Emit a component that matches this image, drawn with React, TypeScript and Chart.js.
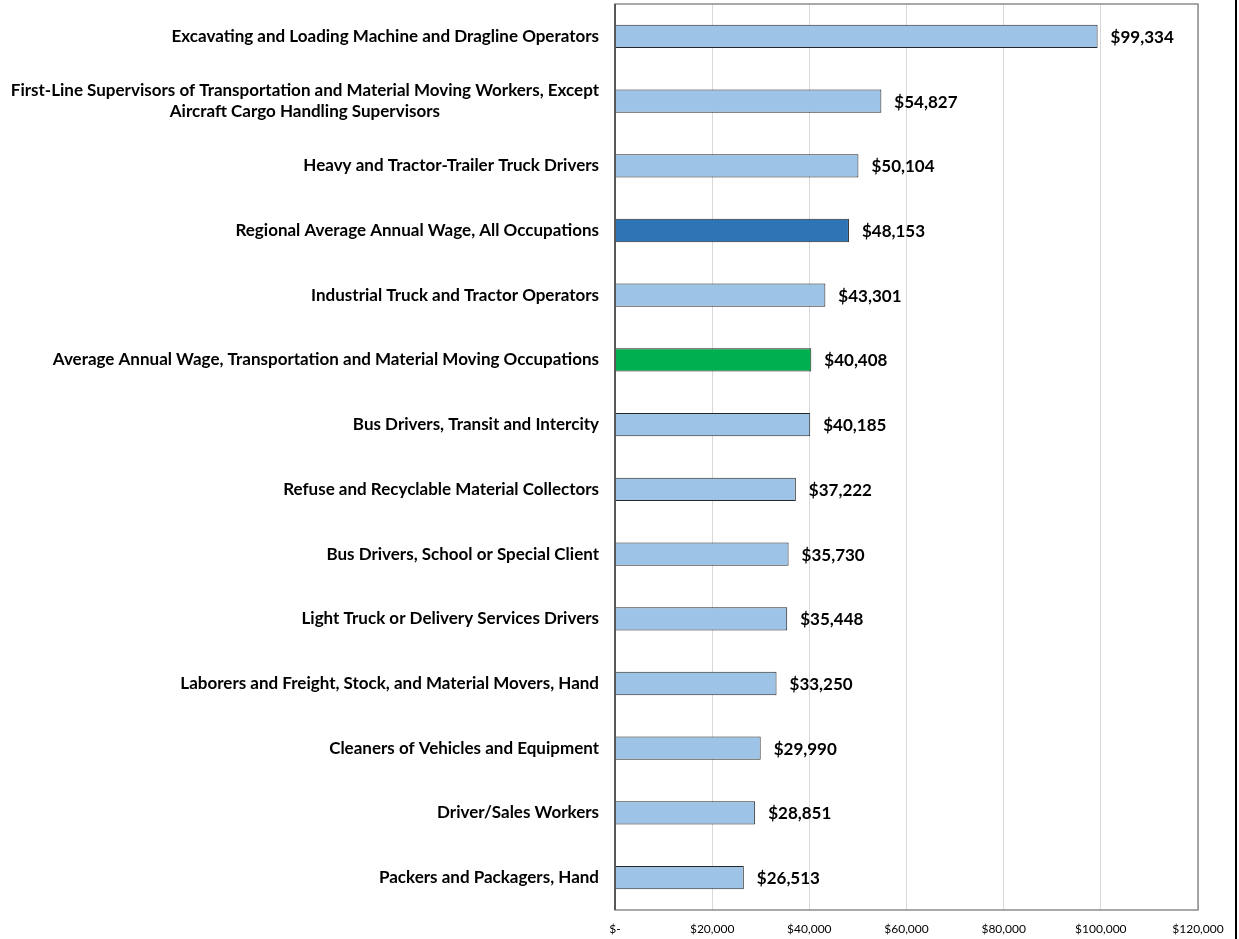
import React, { useEffect, useRef } from "react";
import { Chart, registerables } from "chart.js";

Chart.register(...registerables);

const categories: (string | string[])[] = [
  "Excavating and Loading Machine and Dragline Operators",
  ["First-Line Supervisors of Transportation and Material Moving Workers, Except", "Aircraft Cargo Handling Supervisors"],
  "Heavy and Tractor-Trailer Truck Drivers",
  "Regional Average Annual Wage, All Occupations",
  "Industrial Truck and Tractor Operators",
  "Average Annual Wage, Transportation and Material Moving Occupations",
  "Bus Drivers, Transit and Intercity",
  "Refuse and Recyclable Material Collectors",
  "Bus Drivers, School or Special Client",
  "Light Truck or Delivery Services Drivers",
  "Laborers and Freight, Stock, and Material Movers, Hand",
  "Cleaners of Vehicles and Equipment",
  "Driver/Sales Workers",
  "Packers and Packagers, Hand",
];

const wages: number[] = [99334, 54827, 50104, 48153, 43301, 40408, 40185, 37222, 35730, 35448, 33250, 29990, 28851, 26513];

const barColors: string[] = [
  "#9DC3E6", "#9DC3E6", "#9DC3E6", "#2E75B6", "#9DC3E6", "#00B050", "#9DC3E6",
  "#9DC3E6", "#9DC3E6", "#9DC3E6", "#9DC3E6", "#9DC3E6", "#9DC3E6", "#9DC3E6",
];

const xTicks: number[] = [0, 20000, 40000, 60000, 80000, 100000, 120000];

const FONT = "Lato, 'Open Sans', sans-serif";

const fmt = (v: number) => (v === 0 ? "$-" : "$" + v.toLocaleString("en-US"));

const decorPlugin = {
  id: "decor",
  afterDatasetsDraw(chart: any) {
    const ctx = chart.ctx;
    const area = chart.chartArea;
    const meta = chart.getDatasetMeta(0);
    ctx.save();
    // plot border
    ctx.strokeStyle = "#8c8c8c";
    ctx.lineWidth = 1.5;
    ctx.strokeRect(area.left, area.top, area.right - area.left, area.bottom - area.top);
    ctx.strokeStyle = "#404040";
    ctx.beginPath();
    ctx.moveTo(area.left, area.top);
    ctx.lineTo(area.left, area.bottom);
    ctx.stroke();
    // value labels
    ctx.fillStyle = "#000";
    ctx.font = "bold 17px " + FONT;
    ctx.textAlign = "left";
    ctx.textBaseline = "middle";
    meta.data.forEach((bar: any, i: number) => {
      ctx.fillText(fmt(wages[i]), bar.x + 13, bar.y + 1);
    });
    // category labels
    const yScale = chart.scales.y;
    ctx.font = "bold 17px " + FONT;
    ctx.textAlign = "center";
    categories.forEach((c, i) => {
      const lines = Array.isArray(c) ? c : [c];
      const y = yScale.getPixelForValue(i);
      const maxW = Math.max(...lines.map((l) => ctx.measureText(l).width));
      const cx = 599 - maxW / 2;
      const lh = 21;
      lines.forEach((l, j) => {
        ctx.fillText(l, cx, y + (j - (lines.length - 1) / 2) * lh);
      });
    });
    // right outer line
    ctx.fillStyle = "#000";
    ctx.fillRect(1235, 0, 2, chart.height);
    ctx.restore();
  },
};

export default function App() {
  const ref = useRef<HTMLCanvasElement>(null);
  useEffect(() => {
    const chart = new Chart(ref.current!, {
      type: "bar",
      data: {
        labels: categories.map((c) => (Array.isArray(c) ? c.join(" ") : c)),
        datasets: [
          {
            data: wages,
            backgroundColor: barColors,
            borderColor: "#262626",
            borderWidth: 1,
            categoryPercentage: 1,
            barPercentage: 0.36,
          },
        ],
      },
      options: {
        indexAxis: "y",
        responsive: false,
        animation: false,
        layout: { padding: { top: 4, right: 41, left: 0, bottom: 0 } },
        plugins: { legend: { display: false }, tooltip: { enabled: false } },
        scales: {
          x: {
            min: 0,
            max: 120000,
            afterBuildTicks: (s: any) => {
              s.ticks = xTicks.map((v) => ({ value: v }));
            },
            afterFit: (s: any) => {
              s.height = 29;
            },
            grid: { color: "#d9d9d9", drawTicks: false },
            border: { display: false },
            ticks: {
              padding: 12,
              color: "#000",
              font: { family: FONT, size: 12 },
              callback: (v: any) => fmt(Number(v)),
            },
          },
          y: {
            afterFit: (s: any) => {
              s.width = 615;
            },
            grid: { display: false },
            border: { display: false },
            ticks: { display: false },
          },
        },
      },
      plugins: [decorPlugin],
    } as any);
    return () => chart.destroy();
  }, []);
  return (
    <div style={{ position: "absolute", left: 0, top: 0, width: 1239, height: 939, background: "#fff" }}>
      <canvas ref={ref} width={1239} height={939} />
    </div>
  );
}
